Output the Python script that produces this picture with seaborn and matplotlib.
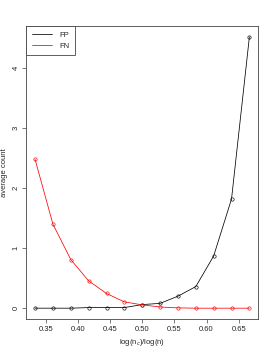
import numpy as np
import pandas as pd
import seaborn as sns
import matplotlib.pyplot as plt
from matplotlib.lines import Line2D

ratio = [12/36, 13/36, 14/36, 15/36, 16/36, 17/36, 18/36, 19/36, 20/36, 21/36, 22/36, 23/36, 24/36]
fp = [0.0, 0.0, 0.0, 0.01, 0.01, 0.01, 0.06, 0.08, 0.20, 0.36, 0.87, 1.82, 4.52]
fn = [2.48, 1.40, 0.81, 0.455, 0.245, 0.105, 0.055, 0.02, 0.005, 0.0, 0.0, 0.0, 0.0]

df = pd.DataFrame({
    "ratio": ratio * 2,
    "count": fp + fn,
    "type": ["FP"] * len(fp) + ["FN"] * len(fn),
})

sns.set_style("white")
plt.rcParams['font.family'] = ['Liberation Sans', 'DejaVu Sans']

fig = plt.figure(figsize=(2.72, 3.52), dpi=100)
ax = fig.add_axes([0.0974, 0.0938, 0.851, 0.832])

sns.lineplot(data=df, x="ratio", y="count", hue="type", palette={"FP": "black", "FN": "red"},
             marker="o", markersize=2.4, markerfacecolor="none", markeredgewidth=0.45,
             linewidth=0.55, legend=False, ax=ax)
for line, c in zip(ax.lines, ["black", "red"]):
    line.set_markeredgecolor(c)

ax.set_xlim(0.32, 0.68)
ax.set_ylim(-0.18, 4.70)
ax.set_xticks([0.35, 0.40, 0.45, 0.50, 0.55, 0.60, 0.65])
ax.set_xticklabels(["0.35", "0.40", "0.45", "0.50", "0.55", "0.60", "0.65"])
ax.set_yticks([0, 1, 2, 3, 4])
ax.set_yticklabels(["0", "1", "2", "3", "4"], rotation=90, va="center")
ax.tick_params(axis="both", direction="out", length=3, width=0.5, labelsize=5.5, pad=2,
               bottom=True, left=True, color="#444444")
for s in ax.spines.values():
    s.set_linewidth(0.6)
    s.set_color("#444444")

ax.set_xlabel(r"log(n$_c$)/log(n)", fontsize=5.5, labelpad=3)
ax.set_ylabel("average count", fontsize=5.5, labelpad=3)

handles = [Line2D([], [], color="black", lw=0.55), Line2D([], [], color="red", lw=0.55)]
leg = ax.legend(handles, ["FP", "FN"], loc="upper left", borderaxespad=0, fontsize=5.5,
                fancybox=False, framealpha=1, handlelength=2.6, handletextpad=1.0,
                borderpad=0.7, labelspacing=0.45)
leg.get_frame().set_edgecolor("#444444")
leg.get_frame().set_linewidth(0.6)

fig.savefig("out.png", dpi=100)
